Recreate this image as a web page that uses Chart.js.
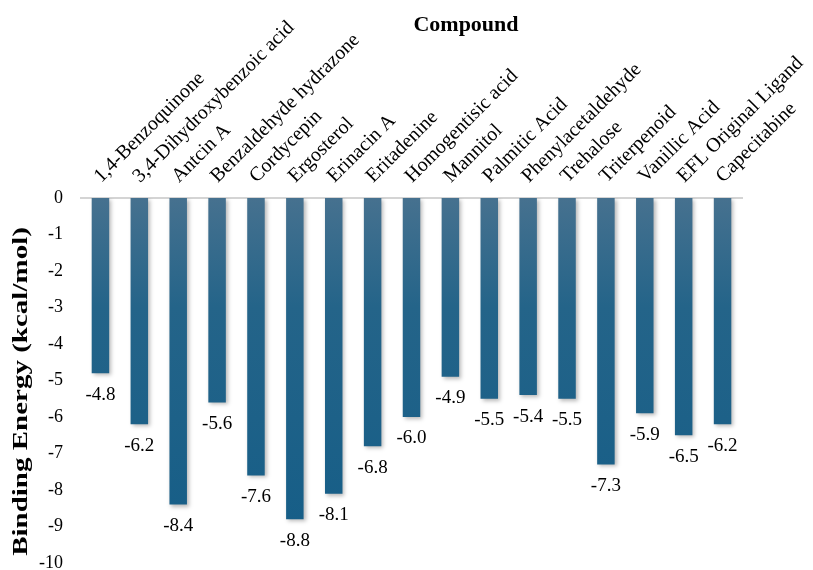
<!DOCTYPE html>
<html>
<head>
<meta charset="utf-8">
<script src="https://cdn.jsdelivr.net/npm/chart.js@4/dist/chart.umd.min.js"></script>
<style>
  html, body { margin: 0; padding: 0; background: #fff; }
  #wrap { width: 813px; height: 570px; }
</style>
</head>
<body>
<div id="wrap"><canvas id="MyChart"></canvas></div>
<script>
const compounds = [
  '1,4-Benzoquinone', '3,4-Dihydroxybenzoic acid', 'Antcin A', 'Benzaldehyde hydrazone',
  'Cordycepin', 'Ergosterol', 'Erinacin A', 'Eritadenine', 'Homogentisic acid', 'Mannitol',
  'Palmitic Acid', 'Phenylacetaldehyde', 'Trehalose', 'Triterpenoid', 'Vanillic Acid',
  'EFL Original Ligand', 'Capecitabine'
];
const bindingEnergy = [-4.8, -6.2, -8.4, -5.6, -7.6, -8.8, -8.1, -6.8, -6.0, -4.9, -5.5, -5.4, -5.5, -7.3, -5.9, -6.5, -6.2];

const serif = "'Liberation Serif', 'Times New Roman', serif";

// value text under the end of each bar
const valueLabels = {
  id: 'valueLabels',
  afterDatasetsDraw(chart) {
    const ctx = chart.ctx;
    const meta = chart.getDatasetMeta(0);
    ctx.save();
    ctx.font = '19px ' + serif;
    ctx.fillStyle = '#000';
    ctx.textAlign = 'center';
    ctx.textBaseline = 'top';
    meta.data.forEach((bar, i) => {
      ctx.fillText(bindingEnergy[i].toFixed(1), bar.x, bar.y + 12);
    });
    ctx.restore();
  }
};

// soft shadow behind the bars
const barShadow = {
  id: 'barShadow',
  beforeDatasetsDraw(chart) {
    const ctx = chart.ctx;
    ctx.save();
    ctx.shadowColor = 'rgba(0,0,0,0.28)';
    ctx.shadowBlur = 4;
    ctx.shadowOffsetX = 2;
    ctx.shadowOffsetY = 2;
  },
  afterDatasetsDraw(chart) {
    chart.ctx.restore();
  }
};

// axis headings: "Compound" over the labels, stretched y title on the left
const headings = {
  id: 'headings',
  afterDraw(chart) {
    const ctx = chart.ctx;
    const area = chart.chartArea;
    ctx.save();
    ctx.fillStyle = '#000';
    ctx.textAlign = 'center';
    ctx.textBaseline = 'middle';
    ctx.font = 'bold 22px ' + serif;
    ctx.fillText('Compound', 466, 25);

    ctx.translate(22, (area.top + area.bottom) / 2 + 11);
    ctx.rotate(-Math.PI / 2);
    ctx.scale(1.45, 1);
    ctx.font = 'bold 20px ' + serif;
    ctx.fillText('Binding Energy (kcal/mol)', 0, 0);
    ctx.restore();
  }
};

function barFill(context) {
  const area = context.chart.chartArea;
  if (!area) return '#1f6188';
  const g = context.chart.ctx.createLinearGradient(0, area.top, 0, area.bottom);
  g.addColorStop(0, '#46718f');
  g.addColorStop(0.3, '#246489');
  g.addColorStop(1, '#145d87');
  return g;
}

new Chart(document.getElementById('MyChart').getContext('2d'), {
  type: 'bar',
  data: {
    labels: compounds,
    datasets: [{
      data: bindingEnergy,
      backgroundColor: barFill,
      borderWidth: 0,
      barPercentage: 0.45,
      categoryPercentage: 1
    }]
  },
  options: {
    responsive: true,
    maintainAspectRatio: false,
    animation: false,
    layout: { padding: { top: 0, right: 0, bottom: 0, left: 6 } },
    plugins: {
      legend: { display: false },
      tooltip: { enabled: false }
    },
    scales: {
      x: {
        position: 'top',
        afterFit: (scale) => {
          scale.height = 198;
          scale.paddingLeft = 0;
          scale.paddingRight = 71;
        },
        grid: { display: false, drawTicks: false },
        border: { color: '#d4d4d4', width: 2 },
        ticks: {
          minRotation: 45,
          maxRotation: 45,
          autoSkip: false,
          padding: 10,
          labelOffset: 14,
          color: '#000',
          font: { family: serif, size: 20 }
        }
      },
      y: {
        min: -10,
        max: 0,
        afterFit: (scale) => {
          scale.width = 75;
          scale.paddingTop = 0;
          scale.paddingBottom = 7;
        },
        grid: { display: false, drawTicks: false },
        border: { display: false },
        ticks: {
          stepSize: 1,
          padding: 18,
          color: '#000',
          font: { family: serif, size: 18 }
        }
      }
    }
  },
  plugins: [barShadow, valueLabels, headings]
});
</script>
</body>
</html>
